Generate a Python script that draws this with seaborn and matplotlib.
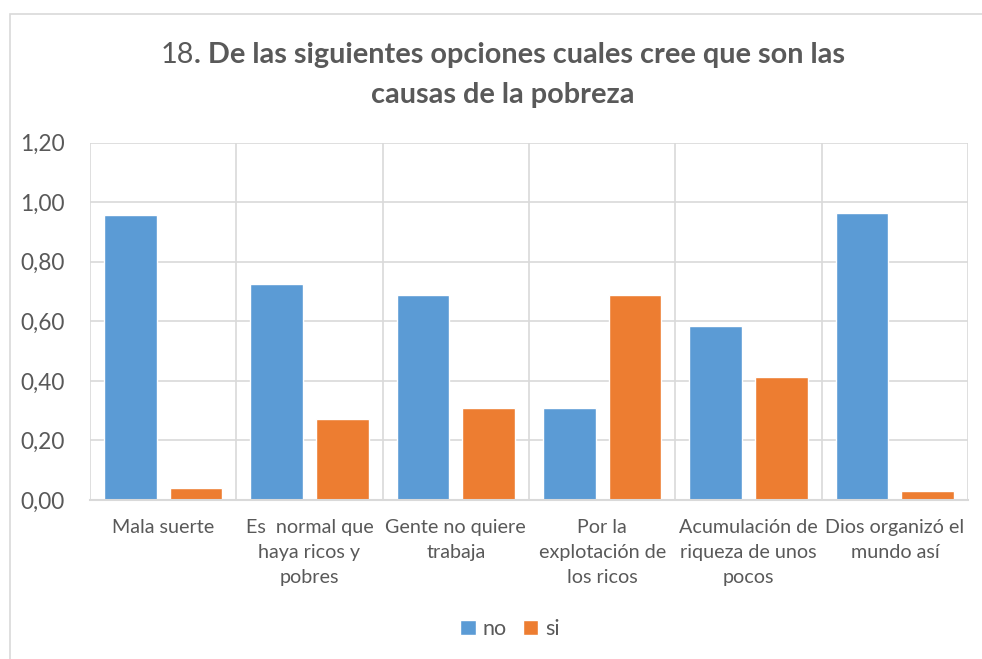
import pandas as pd
import numpy as np
import matplotlib
matplotlib.use('Agg')
import matplotlib.pyplot as plt
import seaborn as sns

# data
categories = ['Mala suerte',
              'Es  normal que\nhaya ricos y\npobres',
              'Gente no quiere\ntrabaja',
              'Por la\nexplotación de\nlos ricos',
              'Acumulación de\nriqueza de unos\npocos',
              'Dios organizó el\nmundo así']
no_vals = [0.956, 0.724, 0.687, 0.309, 0.584, 0.964]
si_vals = [0.040, 0.271, 0.309, 0.687, 0.412, 0.030]
series = ['no', 'si']
colors = ['#5B9BD5', '#ED7D31']
yticks = [0.0, 0.2, 0.4, 0.6, 0.8, 1.0, 1.2]

df = pd.DataFrame({
    'cat': categories * 2,
    'serie': ['no'] * len(categories) + ['si'] * len(categories),
    'valor': no_vals + si_vals,
})

sns.set_style('white')
plt.rcParams['font.family'] = ['Lato', 'DejaVu Sans']
txt = '#595959'
grid = '#D9D9D9'

W, H = 982, 659
fig = plt.figure(figsize=(W / 100, H / 100), dpi=100)
ax = fig.add_axes([90 / W, (H - 500) / H, 878 / W, 357.3 / H])

sns.barplot(data=df, x='cat', y='valor', hue='serie', order=categories,
            hue_order=series, palette=colors, width=0.9, gap=0.2,
            saturation=1, ax=ax, legend=True)

ax.set_ylim(0, 1.2)
ax.set_xlim(-0.5, len(categories) - 0.5)
ax.set_yticks(yticks)
ax.set_yticklabels([f'{v:.2f}'.replace('.', ',') for v in yticks],
                   fontsize=16.3, color=txt)
ax.set_xticks(range(len(categories)))
ax.set_xticklabels(categories, fontsize=14.2, color=txt, linespacing=1.55,
                   va='top')
ax.set_xticks(np.arange(-0.5, len(categories)), minor=True)
ax.tick_params(axis='y', length=0, pad=18)
ax.tick_params(axis='x', length=0, pad=14)
ax.tick_params(which='minor', length=0)
ax.grid(axis='y', color=grid, lw=1.2)
ax.grid(axis='x', which='minor', color=grid, lw=1.2)
ax.grid(axis='x', which='major', visible=False)
ax.set_axisbelow(True)
for s in ['top', 'left', 'right']:
    ax.spines[s].set_visible(False)
ax.spines['bottom'].set_color(grid)
ax.spines['bottom'].set_linewidth(1.5)
ax.set_xlabel('')
ax.set_ylabel('')

leg = ax.legend(loc='center', ncol=2, frameon=False,
                handlelength=0.7, handleheight=0.7, columnspacing=0.8,
                handletextpad=0.3, fontsize=15.5)
leg.set_bbox_to_anchor((510 / W, (H - 629) / H), transform=fig.transFigure)
for t in leg.get_texts():
    t.set_color(txt)

# outer chart border
fig.patches.append(plt.Rectangle((10 / W, -0.1), 1.2, (H - 14) / H + 0.1,
                                 transform=fig.transFigure, fill=False,
                                 edgecolor='#D9D9D9', lw=1.2))

# title: "18" regular, rest bold
ts = 20.8
y1 = 1 - 55 / H
y2 = 1 - 95 / H
a = fig.text(0, y1, '18', fontsize=ts, color=txt, va='center')
b = fig.text(0, y1, '. De las siguientes opciones cuales cree que son las',
             fontsize=ts, color=txt, fontweight='bold', va='center')
fig.text(503 / W, y2, 'causas de la pobreza', fontsize=ts, color=txt,
         fontweight='bold', va='center', ha='center')
fig.canvas.draw()
r = fig.canvas.get_renderer()
wa = a.get_window_extent(r).width
wb = b.get_window_extent(r).width
x0 = 503 - (wa + wb) / 2
a.set_x(x0 / W)
b.set_x((x0 + wa) / W)

fig.savefig('out.png', dpi=100)
